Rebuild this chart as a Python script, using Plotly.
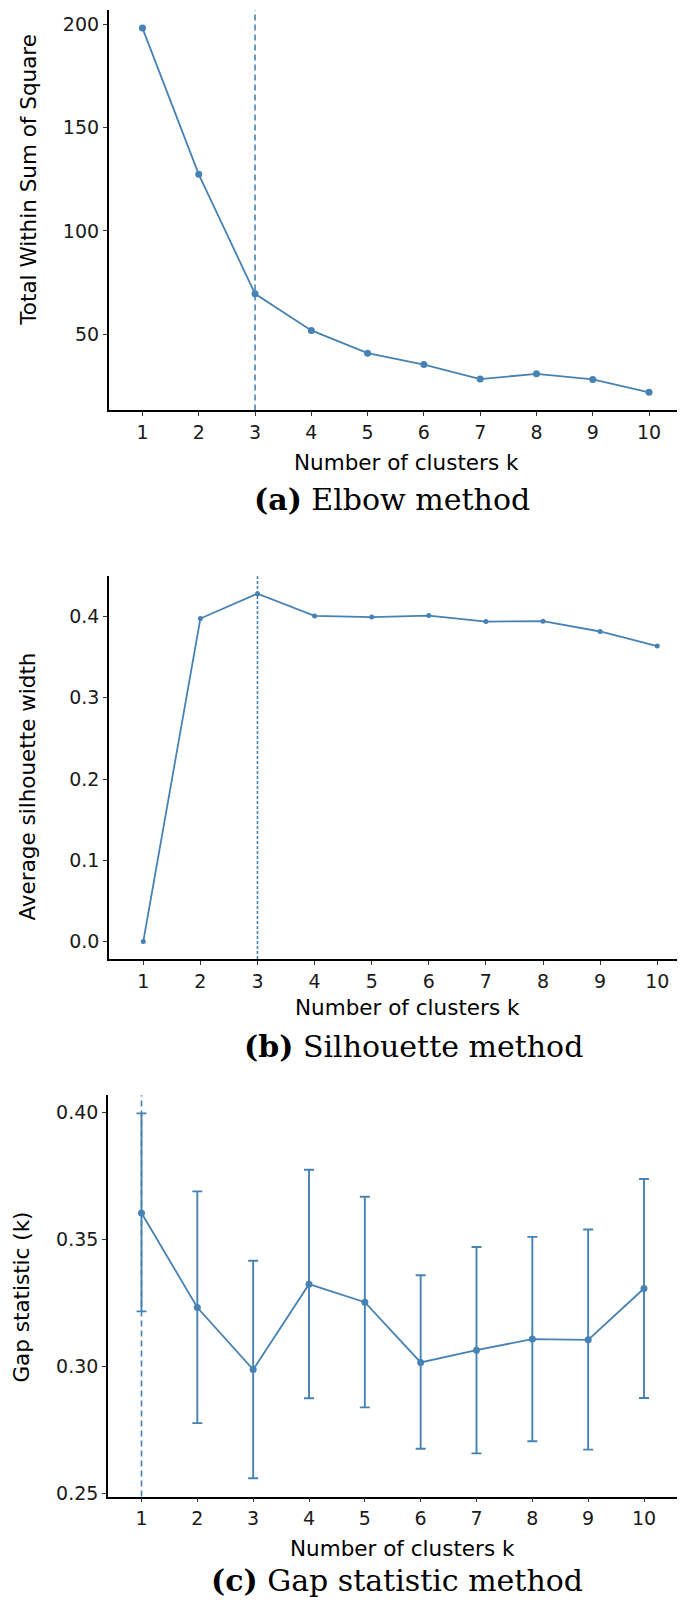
import plotly.graph_objects as go

# ---------------- data ----------------
k_values = [1, 2, 3, 4, 5, 6, 7, 8, 9, 10]
k_ticks = ["1", "2", "3", "4", "5", "6", "7", "8", "9", "10"]

wss = [198.1, 127.4, 69.6, 51.9, 40.9, 35.4, 28.4, 30.9, 28.2, 22.0]
silhouette = [0.0, 0.3976, 0.4282, 0.4008, 0.3993, 0.4012, 0.3938, 0.3943, 0.3816, 0.3637]
gap = [0.3604, 0.3232, 0.2988, 0.3324, 0.3253, 0.3016, 0.3064, 0.3108, 0.3105, 0.3307]
gap_upper = [0.3996, 0.3689, 0.3416, 0.3774, 0.3668, 0.3359, 0.3470, 0.3510, 0.3539, 0.3738]
gap_lower = [0.3217, 0.2777, 0.2560, 0.2875, 0.2839, 0.2676, 0.2658, 0.2706, 0.2673, 0.2876]

best_k_elbow = 3
best_k_sil = 3
best_k_gap = 1

y_title_a = "Total Within Sum of Square"
y_title_b = "Average silhouette width"
y_title_c = "Gap statistic (k)"
x_title = "Number of clusters k"
captions = ["<b>(a)</b> Elbow method", "<b>(b)</b> Silhouette method", "<b>(c)</b> Gap statistic method"]

# ---------------- layout helpers ----------------
W, H = 685, 1604
COLOR = "#4682B4"
SANS = "DejaVu Sans"
SERIF = "DejaVu Serif"


def xd(left, right):
    return [left / W, right / W]


def yd(top, bottom):
    return [1 - bottom / H, 1 - top / H]


def expand(lo, hi, f=0.05):
    r = hi - lo
    return [lo - f * r, hi + f * r]


fig = go.Figure()

# (a) elbow
fig.add_trace(go.Scatter(x=k_values, y=wss, mode="lines+markers",
                         line=dict(color=COLOR, width=1.8),
                         marker=dict(color=COLOR, size=7),
                         xaxis="x", yaxis="y", showlegend=False))
# (b) silhouette
fig.add_trace(go.Scatter(x=k_values, y=silhouette, mode="lines+markers",
                         line=dict(color=COLOR, width=1.8),
                         marker=dict(color=COLOR, size=5),
                         xaxis="x2", yaxis="y2", showlegend=False))
# (c) gap statistic
err_plus = [u - g for u, g in zip(gap_upper, gap)]
err_minus = [g - l for g, l in zip(gap, gap_lower)]
fig.add_trace(go.Scatter(x=k_values, y=gap, mode="lines+markers",
                         line=dict(color=COLOR, width=1.8),
                         marker=dict(color=COLOR, size=7),
                         error_y=dict(type="data", symmetric=False, array=err_plus,
                                      arrayminus=err_minus, color=COLOR,
                                      thickness=1.9, width=5),
                         xaxis="x3", yaxis="y3", showlegend=False))

axis_common = dict(showline=True, linecolor="black", linewidth=1.6, showgrid=False,
                   zeroline=False, ticks="outside", ticklen=4, tickwidth=1,
                   tickcolor="#333333", tickfont=dict(family=SANS, size=19, color="#1a1a1a"),
                   mirror=False)

xr = [0.4, 10.6]
fig.update_layout(
    width=W, height=H, margin=dict(l=0, r=0, t=0, b=0),
    paper_bgcolor="white", plot_bgcolor="white",
    xaxis=dict(domain=xd(100.7, 674.8), range=xr, tickvals=k_values, ticktext=k_ticks,
               anchor="y", **axis_common),
    yaxis=dict(domain=yd(1.9, 404.5), range=expand(min(wss), max(wss)),
               tickvals=[50, 100, 150, 200], anchor="x", **axis_common),
    xaxis2=dict(domain=xd(101, 683.5), range=xr, tickvals=k_values, ticktext=k_ticks,
                anchor="y2", **axis_common),
    yaxis2=dict(domain=yd(571.1, 955.7), range=expand(min(silhouette), max(silhouette)),
                tickvals=[0.0, 0.1, 0.2, 0.3, 0.4], tickformat=".1f", anchor="x2", **axis_common),
    xaxis3=dict(domain=xd(100, 669.5), range=xr, tickvals=k_values, ticktext=k_ticks,
                anchor="y3", **axis_common),
    yaxis3=dict(domain=yd(1092.6, 1496), range=expand(min(gap_lower), max(gap_upper)),
                tickvals=[0.25, 0.30, 0.35, 0.40], tickformat=".2f", anchor="x3", **axis_common),
)

# vertical dashed lines at optimal k
for xref, yref, kbest, dash in [("x", "y domain", best_k_elbow, "6px,4px"),
                                ("x2", "y2 domain", best_k_sil, "3px,2px"),
                                ("x3", "y3 domain", best_k_gap, "6px,4px")]:
    fig.add_shape(type="line", xref=xref, yref=yref, x0=kbest, x1=kbest, y0=0, y1=1,
                  line=dict(color=COLOR, width=1.6, dash=dash), layer="below")

annotations = []
# y-axis titles
for text, xc, yc in [(y_title_a, 21, 172.5), (y_title_b, 20, 782.5), (y_title_c, 14, 1296)]:
    annotations.append(dict(text=text, xref="paper", yref="paper", x=xc / W, y=1 - yc / H,
                            xanchor="center", yanchor="middle", textangle=-90, showarrow=False,
                            font=dict(family=SANS, size=21.5, color="black")))
# x-axis titles
for xc, yc in [(398.3, 457), (399, 1005), (394, 1548)]:
    annotations.append(dict(text=x_title, xref="paper", yref="paper", x=xc / W, y=1 - yc / H,
                            xanchor="center", yanchor="middle", showarrow=False,
                            font=dict(family=SANS, size=21.5, color="black")))
# captions
for text, xl, yc in [(captions[0], 244, 494), (captions[1], 234, 1044), (captions[2], 201, 1580)]:
    annotations.append(dict(text=text, xref="paper", yref="paper", x=xl / W, y=1 - yc / H,
                            xanchor="left", yanchor="middle", showarrow=False,
                            font=dict(family=SERIF, size=30, color="black")))
fig.update_layout(annotations=annotations)

fig.write_html("out.html")
